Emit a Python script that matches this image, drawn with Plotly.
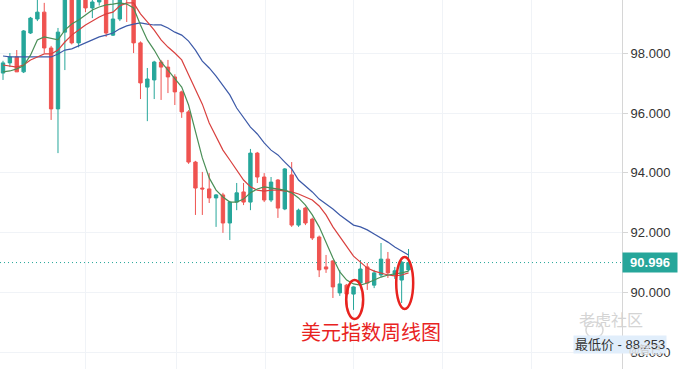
import plotly.graph_objects as go

# ---- data ----
weeks = list(range(60))
open_ = [97.34, 97.68, 97.88, 97.38, 98.68, 99.15, 99.38, 98.18, 96.14, 98.71,
         102.80, 98.35, 100.60, 99.52, 99.72, 100.40, 98.61, 99.15, 100.30, 99.85,
         98.35, 96.87, 97.11, 97.71, 97.54, 97.21, 96.71, 96.04, 94.36, 93.49,
         93.46, 93.16, 93.26, 92.32, 93.02, 93.36, 93.02, 94.66, 93.86, 93.09,
         93.76, 92.79, 93.93, 92.25, 92.82, 92.45, 91.85, 90.85, 91.05, 89.98,
         90.24, 89.94, 90.31, 90.85, 90.24, 90.58, 91.11, 90.60, 90.41, 90.75]
close = [97.68, 97.88, 97.38, 98.75, 99.18, 99.38, 98.18, 96.14, 98.71, 102.80,
         98.35, 100.60, 99.52, 99.72, 100.40, 98.68, 99.15, 100.30, 99.85, 98.35,
         97.01, 97.14, 97.71, 97.54, 97.21, 96.71, 96.04, 94.36, 93.49, 93.46,
         93.16, 93.26, 92.32, 93.02, 93.33, 93.02, 94.66, 93.86, 93.09, 93.69,
         92.82, 94.13, 92.25, 92.75, 92.32, 91.82, 90.75, 90.78, 90.18, 90.28,
         89.94, 90.18, 90.78, 90.31, 90.65, 91.11, 90.65, 90.72, 91.01, 90.996]
high = [97.75, 98.01, 98.11, 98.78, 99.22, 99.90, 99.69, 98.25, 98.85, 103.00,
        103.00, 100.90, 100.90, 100.00, 100.90, 100.60, 99.90, 100.60, 100.50, 100.00,
        98.40, 97.51, 97.75, 97.78, 97.78, 97.30, 96.75, 96.10, 94.40, 94.03,
        93.99, 93.29, 93.33, 93.06, 93.66, 93.66, 94.80, 94.70, 93.99, 93.86,
        93.79, 94.16, 94.36, 92.80, 92.86, 92.50, 91.90, 91.25, 91.08, 90.75,
        90.28, 90.20, 91.08, 90.98, 90.75, 91.65, 91.35, 90.85, 91.05, 91.45]
low = [97.11, 97.54, 97.38, 97.34, 98.65, 99.08, 98.01, 95.77, 94.66, 97.44,
       98.30, 98.20, 99.38, 99.18, 99.60, 98.55, 98.58, 99.08, 99.05, 98.01,
       96.47, 95.73, 96.47, 96.44, 96.67, 96.27, 95.84, 94.30, 92.59, 92.59,
       92.99, 92.19, 91.99, 91.75, 92.75, 92.92, 92.75, 93.66, 93.02, 93.02,
       92.49, 92.75, 92.19, 92.19, 92.25, 91.75, 90.51, 90.65, 89.81, 89.88,
       89.57, 89.41, 90.24, 90.08, 90.14, 90.51, 90.48, 90.45, 89.64, 90.70]

ma_short = [97.38, 97.41, 97.48, 97.58, 97.94, 98.45, 98.55, 98.51, 98.45, 98.78,
            98.98, 99.12, 99.28, 99.45, 99.55, 99.62, 99.65, 99.69, 99.65, 99.52,
            98.95, 98.45, 98.11, 97.71, 97.44, 97.17, 96.87, 96.27, 95.37, 94.50,
            93.83, 93.42, 93.19, 93.02, 93.02, 93.12, 93.33, 93.46, 93.53, 93.49,
            93.46, 93.42, 93.33, 93.16, 92.92, 92.59, 92.19, 91.65, 91.15, 90.68,
            90.41, 90.28, 90.24, 90.31, 90.41, 90.51, 90.58, 90.61, 90.65, 90.71]
ma_mid = [97.61, 97.58, 97.54, 97.61, 97.78, 97.88, 97.98, 97.98, 98.11, 98.38,
          98.61, 98.78, 98.95, 99.08, 99.22, 99.32, 99.38, 99.59, 99.69, 99.69,
          99.32, 99.05, 98.78, 98.45, 98.21, 98.01, 97.78, 97.28, 96.77, 96.30,
          95.67, 95.20, 94.76, 94.43, 94.09, 93.76, 93.53, 93.42, 93.39, 93.42,
          93.42, 93.39, 93.36, 93.29, 93.19, 93.09, 92.89, 92.59, 92.19, 91.85,
          91.52, 91.21, 91.01, 90.81, 90.71, 90.65, 90.58, 90.55, 90.58, 90.65]
ma_long = [97.91, 97.88, 97.88, 97.88, 97.88, 97.88, 97.88, 97.88, 97.98, 98.11,
           98.15, 98.25, 98.35, 98.45, 98.55, 98.61, 98.68, 98.82, 98.92, 98.98,
           99.02, 98.98, 98.95, 98.95, 98.85, 98.71, 98.61, 98.41, 98.11, 97.74,
           97.51, 97.24, 96.94, 96.61, 96.17, 95.84, 95.53, 95.30, 95.00, 94.76,
           94.60, 94.36, 94.13, 93.76, 93.56, 93.36, 93.12, 92.96, 92.79, 92.59,
           92.42, 92.25, 92.19, 92.09, 91.95, 91.82, 91.68, 91.52, 91.38, 91.25]

y_ticks = [88, 90, 92, 94, 96, 98]
y_tick_labels = ["88.000", "90.000", "92.000", "94.000", "96.000", "98.000"]
x_grid = [11.94, 25.18, 38.14, 50.95, 63.90, 76.86]
last_price = 90.996
lowest_price = 88.253
circle1 = (49.93, 52.40, 89.11, 90.41)
circle2 = (57.21, 59.68, 89.44, 91.18)

UP = "#26a69a"
DOWN = "#ef5350"

fig = go.Figure()
fig.add_trace(go.Candlestick(
    x=weeks, open=open_, high=high, low=low, close=close,
    increasing=dict(line=dict(color=UP, width=1), fillcolor=UP),
    decreasing=dict(line=dict(color=DOWN, width=1), fillcolor=DOWN),
    whiskerwidth=0, showlegend=False, hoverinfo="skip"))
fig.add_trace(go.Scatter(x=weeks, y=ma_long, mode="lines",
                         line=dict(color="#3d5aa8", width=1.2), showlegend=False))
fig.add_trace(go.Scatter(x=weeks, y=ma_mid, mode="lines",
                         line=dict(color="#d9413f", width=1.2), showlegend=False))
fig.add_trace(go.Scatter(x=weeks, y=ma_short, mode="lines",
                         line=dict(color="#4a8f57", width=1.2), showlegend=False))

shapes = [
    dict(type="line", xref="paper", x0=0, x1=1, yref="y", y0=last_price, y1=last_price,
         line=dict(color=UP, width=1, dash="1px,3px"), layer="below"),
    dict(type="circle", xref="x", yref="y", x0=circle1[0], x1=circle1[1],
         y0=circle1[2], y1=circle1[3], line=dict(color="#e8231f", width=2.5)),
    dict(type="circle", xref="x", yref="y", x0=circle2[0], x1=circle2[1],
         y0=circle2[2], y1=circle2[3], line=dict(color="#e8231f", width=2.5)),
    dict(type="circle", xref="paper", yref="paper", x0=0.942, x1=0.9695,
         y0=0.084, y1=0.1274, line=dict(color="#d8d8d8", width=1.5)),
]

annotations = [
    dict(text="美元指数周线图", xref="paper", yref="paper", x=0.5965, y=0.0569,
         showarrow=False, font=dict(family="Noto Sans CJK SC", size=20, color="#e8231f")),
    dict(text="老虎社区", xref="paper", yref="paper", x=1.037, y=0.097,
         showarrow=False, font=dict(family="Noto Sans CJK SC", size=16, color="#d4d4d4")),
    dict(text="<b>%.3f</b>" % last_price, xref="paper", yref="y", x=1, y=last_price,
         xanchor="left", showarrow=False, bgcolor=UP, width=52, height=17,
         font=dict(family="Liberation Sans, Arial", size=13, color="white")),
    dict(text="最低价 - %.3f" % lowest_price, xref="paper", yref="y", x=1, y=lowest_price,
         xanchor="center", xshift=-2, showarrow=False, bgcolor="#e1eefb", height=15,
         font=dict(family="Liberation Sans, Noto Sans CJK SC", size=13, color="#333333")),
    dict(text="@智己", xref="paper", yref="paper", x=1.066, y=0.028,
         showarrow=False, font=dict(family="Noto Sans CJK SC", size=11, color="#cccccc")),
]

fig.update_layout(
    width=692, height=369, margin=dict(l=0, r=70, t=0, b=0),
    paper_bgcolor="white", plot_bgcolor="white",
    shapes=shapes, annotations=annotations,
    xaxis=dict(range=[-0.437, 90.06], tickvals=x_grid, showticklabels=False,
               showgrid=True, gridcolor="#f0f3f7", zeroline=False, showline=False,
               rangeslider=dict(visible=False), fixedrange=True),
    yaxis=dict(side="right", range=[87.432, 99.786], tickvals=y_ticks, ticktext=y_tick_labels,
               showgrid=True, gridcolor="#f0f3f7", zeroline=False,
               showline=True, linecolor="#d6d6d6", linewidth=1,
               ticks="outside", ticklen=5, tickcolor="#d6d6d6",
               tickfont=dict(family="Liberation Sans, Arial", size=13, color="#333333")),
)

fig.write_html("out.html")
